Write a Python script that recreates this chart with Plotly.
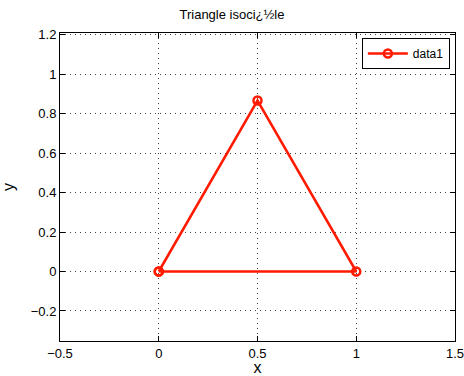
import plotly.graph_objects as go

x_vals = [0, 1, 0.5, 0]
y_vals = [0, 0, 0.8660254, 0]
x_ticks = [-0.5, 0, 0.5, 1, 1.5]
x_tick_labels = ["\u22120.5", "0", "0.5", "1", "1.5"]
y_ticks = [-0.2, 0, 0.2, 0.4, 0.6, 0.8, 1, 1.2]
y_tick_labels = ["\u22120.2", "0", "0.2", "0.4", "0.6", "0.8", "1", "1.2"]

fig = go.Figure()
fig.add_trace(go.Scatter(
    x=x_vals, y=y_vals, mode="lines+markers", name="data1",
    line=dict(color="#ff1a00", width=2.5),
    marker=dict(symbol="circle-open", size=8, color="#ff1a00", line=dict(width=2.5, color="#ff1a00")),
))

axis_common = dict(
    showline=True, linecolor="black", linewidth=1, mirror="ticks",
    ticks="inside", ticklen=5, tickcolor="black",
    showgrid=True, gridcolor="#444444", griddash="1px,4px", gridwidth=1,
    zeroline=False, tickfont=dict(size=13, color="black"),
    ticklabeloverflow="allow",
)

fig.update_layout(
    width=464, height=376,
    margin=dict(l=60, r=9, t=33, b=35),
    paper_bgcolor="white", plot_bgcolor="white",
    font=dict(family="Liberation Sans, Arial, sans-serif", size=13, color="black"),
    title=dict(text="Triangle isoci\u00bf\u00bdle", x=0.5, xanchor="center", y=0.973, yanchor="top",
               font=dict(size=13)),
    xaxis=dict(range=[-0.5, 1.5], tickvals=x_ticks, ticktext=x_tick_labels, automargin=False,
               title=dict(text="x", standoff=3), **axis_common),
    yaxis=dict(range=[-0.352, 1.208], tickvals=y_ticks, ticktext=y_tick_labels, automargin="top",
               title=dict(text="y", standoff=14), **axis_common),
    legend=dict(x=0.987, y=0.984, xanchor="right", yanchor="top",
                bordercolor="black", borderwidth=1, bgcolor="white",
                font=dict(size=12), itemwidth=40),
    showlegend=True,
)

fig.write_html(
    "out.html",
    config={"displayModeBar": False},
    post_script="document.body.style.margin='0';document.body.style.overflow='hidden';",
)
